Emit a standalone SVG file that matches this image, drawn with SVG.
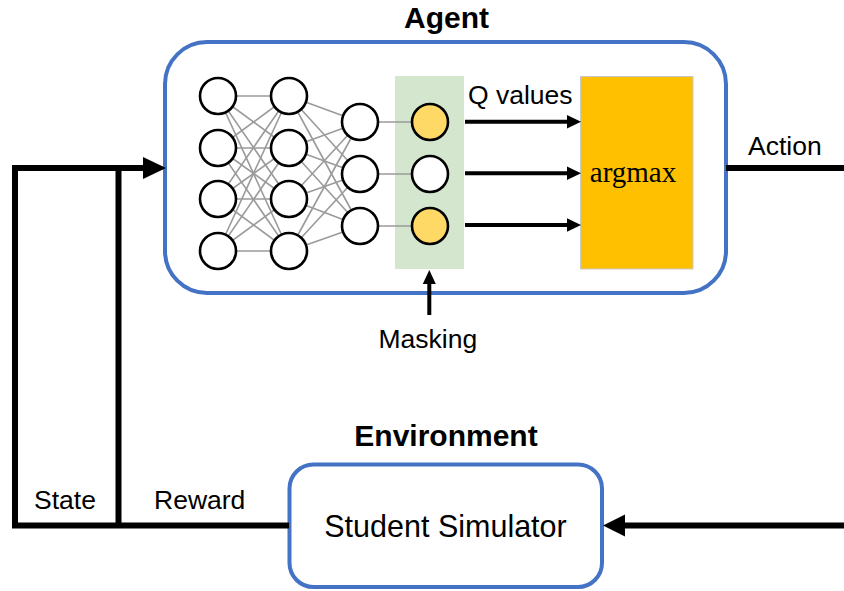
<svg xmlns="http://www.w3.org/2000/svg" width="844" height="591" viewBox="0 0 844 591">
<style>
.lbl{font-family:"Liberation Sans",Arial,sans-serif;font-size:26.5px;fill:#000}
.ttl{font-family:"Liberation Sans",Arial,sans-serif;font-size:30px;font-weight:bold;fill:#000;text-anchor:middle}
.box{fill:#fff;stroke:#4472C4;stroke-width:4}
.n{fill:#fff;stroke:#000;stroke-width:2.6}
.y{fill:#FFD966;stroke:#000;stroke-width:2.6}
.e{stroke:#9a9a9a;stroke-width:1.6}
.thick{stroke:#000;stroke-width:6;fill:none}
.q{stroke:#000;stroke-width:4;fill:none}
</style>
<rect width="844" height="591" fill="#fff"/>
<g id="agent">
<rect class="box" x="165" y="42" width="561" height="251" rx="42"/>
<text class="ttl" x="446.5" y="27.7">Agent</text>
</g>
<g id="mask-layer">
<rect x="395" y="76" width="69" height="193" fill="#D5E6CE"/>
</g>
<g id="argmax">
<rect x="580.5" y="76.5" width="112.5" height="192.5" fill="#FFC000" stroke="#C8C8C8" stroke-width="1"/>
<text x="633" y="181.7" text-anchor="middle" font-family="'Liberation Serif','Times New Roman',serif" font-size="29">argmax</text>
</g>
<g id="network">
<g class="e">
<line x1="218" y1="96" x2="289" y2="96"/><line x1="218" y1="96" x2="289" y2="148"/><line x1="218" y1="96" x2="289" y2="199"/><line x1="218" y1="96" x2="289" y2="251"/>
<line x1="218" y1="148" x2="289" y2="96"/><line x1="218" y1="148" x2="289" y2="148"/><line x1="218" y1="148" x2="289" y2="199"/><line x1="218" y1="148" x2="289" y2="251"/>
<line x1="218" y1="199" x2="289" y2="96"/><line x1="218" y1="199" x2="289" y2="148"/><line x1="218" y1="199" x2="289" y2="199"/><line x1="218" y1="199" x2="289" y2="251"/>
<line x1="218" y1="251" x2="289" y2="96"/><line x1="218" y1="251" x2="289" y2="148"/><line x1="218" y1="251" x2="289" y2="199"/><line x1="218" y1="251" x2="289" y2="251"/>
<line x1="289" y1="96" x2="360" y2="122"/><line x1="289" y1="96" x2="360" y2="174"/><line x1="289" y1="96" x2="360" y2="226"/>
<line x1="289" y1="148" x2="360" y2="122"/><line x1="289" y1="148" x2="360" y2="174"/><line x1="289" y1="148" x2="360" y2="226"/>
<line x1="289" y1="199" x2="360" y2="122"/><line x1="289" y1="199" x2="360" y2="174"/><line x1="289" y1="199" x2="360" y2="226"/>
<line x1="289" y1="251" x2="360" y2="122"/><line x1="289" y1="251" x2="360" y2="174"/><line x1="289" y1="251" x2="360" y2="226"/>
<line x1="360" y1="122" x2="430" y2="122"/><line x1="360" y1="174" x2="430" y2="174"/><line x1="360" y1="226" x2="430" y2="226"/>
</g>
<circle class="n" cx="218" cy="96" r="18"/><circle class="n" cx="218" cy="148" r="18"/><circle class="n" cx="218" cy="199" r="18"/><circle class="n" cx="218" cy="251" r="18"/>
<circle class="n" cx="289" cy="96" r="18"/><circle class="n" cx="289" cy="148" r="18"/><circle class="n" cx="289" cy="199" r="18"/><circle class="n" cx="289" cy="251" r="18"/>
<circle class="n" cx="360" cy="122" r="18"/><circle class="n" cx="360" cy="174" r="18"/><circle class="n" cx="360" cy="226" r="18"/>
<circle class="y" cx="430" cy="122" r="18"/><circle class="n" cx="430" cy="174" r="18"/><circle class="y" cx="430" cy="226" r="18"/>
</g>
<g id="environment">
<rect class="box" x="289.5" y="464.5" width="312.5" height="122.5" rx="24"/>
<text class="ttl" x="446" y="446">Environment</text>
</g>
<g id="student-simulator">
<text x="445.5" y="536.7" text-anchor="middle" font-family="'Liberation Sans',Arial,sans-serif" font-size="30.5">Student Simulator</text>
</g>
<g id="connectors">
<line class="q" x1="465" y1="121.7" x2="569" y2="121.7"/>
<polygon points="581,121.7 567,115 567,128.4"/>
<line class="q" x1="465" y1="173.3" x2="569" y2="173.3"/>
<polygon points="581,173.3 567,166.6 567,180"/>
<line class="q" x1="465" y1="225" x2="569" y2="225"/>
<polygon points="581,225 567,218.3 567,231.7"/>
<line class="q" x1="429.3" y1="315" x2="429.3" y2="281"/>
<polygon points="429.3,270 422.8,284 435.8,284"/>
<line class="thick" x1="726" y1="168" x2="844" y2="168"/>
<line class="thick" x1="844" y1="525.5" x2="624" y2="525.5"/>
<polygon points="603,525.5 625,514.5 625,536.5"/>
<polyline class="thick" points="289,525.5 15,525.5 15,168 145,168"/>
<polygon points="166,168 143,157 143,179"/>
<line class="thick" x1="118.5" y1="168" x2="118.5" y2="525.5"/>
</g>
<text class="lbl" x="468" y="104.3">Q values</text>
<text class="lbl" x="748" y="155">Action</text>
<text class="lbl" x="378.5" y="348">Masking</text>
<text class="lbl" x="34" y="509">State</text>
<text class="lbl" x="154" y="509">Reward</text>
</svg>
